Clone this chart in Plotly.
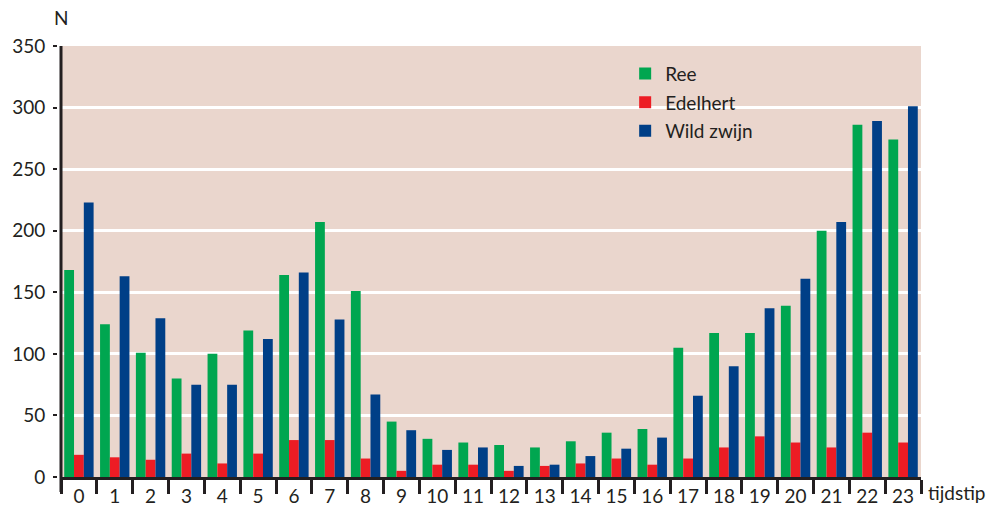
import plotly.graph_objects as go

hours = [str(h) for h in range(24)]
ree = [168, 124, 101, 80, 100, 119, 164, 207, 151, 45, 31, 28, 26, 24, 29, 36, 39, 105, 117, 117, 139, 200, 286, 274]
edelhert = [18, 16, 14, 19, 11, 19, 30, 30, 15, 5, 10, 10, 5, 9, 11, 15, 10, 15, 24, 33, 28, 24, 36, 28]
wild_zwijn = [223, 163, 129, 75, 75, 112, 166, 128, 67, 38, 22, 24, 9, 10, 17, 23, 32, 66, 90, 137, 161, 207, 289, 301]

series = [("Ree", ree, "#00a650"), ("Edelhert", edelhert, "#ed1c24"), ("Wild zwijn", wild_zwijn, "#003f87")]

ink = "#231f20"
font = "Lato"

fig = go.Figure()
for name, vals, col in series:
    fig.add_trace(go.Bar(x=hours, y=vals, name=name, marker=dict(color=col, line=dict(width=0)),
                         legendgroup=name))

fig.update_layout(
    width=1003, height=510,
    margin=dict(l=61, r=82, t=46, b=33, autoexpand=False),
    paper_bgcolor="white",
    plot_bgcolor="#ead6cd",
    barmode="group", bargap=0.18, bargroupgap=0,
    font=dict(family=font, size=19, color=ink),
    showlegend=True,
    legend=dict(x=0.656, y=0.98, xanchor="left", yanchor="top", bgcolor="rgba(0,0,0,0)",
                font=dict(size=19, color=ink), tracegroupgap=1, itemwidth=30),
    xaxis=dict(type="category", tickson="boundaries", ticks="outside", ticklen=14, tickwidth=2.5,
               tickcolor=ink, showline=True, linecolor=ink, linewidth=3, showgrid=False,
               automargin=False,
               tickfont=dict(size=19, color=ink), range=[-0.5, 23.5]),
    yaxis=dict(range=[0, 350], tickvals=[0, 50, 100, 150, 200, 250, 300, 350],
               anchor="free", position=0, shift=-4, automargin=False,
               ticks="outside", ticklen=4, tickwidth=2, tickcolor=ink, ticklabelstandoff=4,
               showline=False, showgrid=True, gridcolor="white", gridwidth=3, zeroline=False,
               tickfont=dict(size=19, color=ink)),
)

fig.add_shape(type="line", xref="paper", yref="paper", x0=0, x1=0, y0=1, y1=-0.035,
              line=dict(color=ink, width=3))

fig.add_annotation(text="N", xref="paper", yref="paper", x=0.0, y=1.035, xanchor="center", yanchor="bottom",
                   showarrow=False, font=dict(size=19, color=ink))
fig.add_annotation(text="tijdstip", xref="paper", yref="paper", x=1.006, y=-0.035, xanchor="left", yanchor="middle",
                   showarrow=False, font=dict(size=19, color=ink))

fig.write_html("out.html", config={"displayModeBar": False},
               post_script="document.body.style.margin='0px';document.body.style.overflow='hidden';")
